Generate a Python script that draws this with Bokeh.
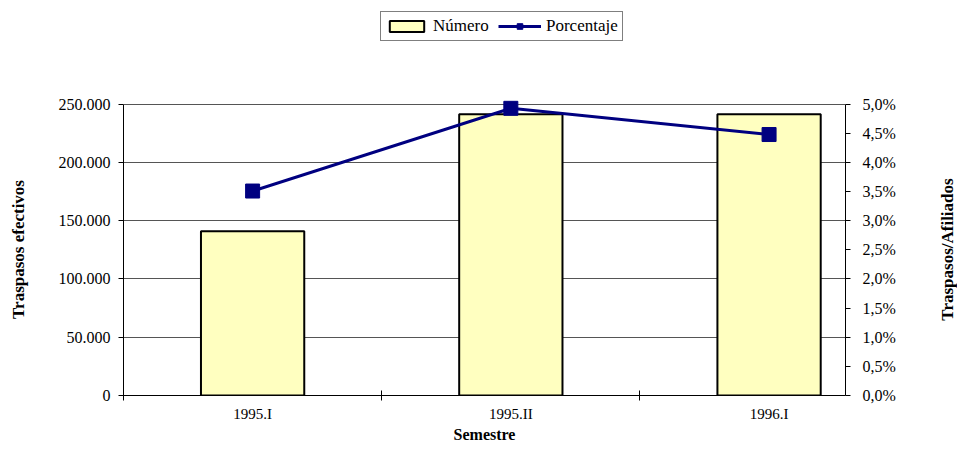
import math
from bokeh.plotting import figure
from bokeh.layouts import row
from bokeh.models import (Range1d, LinearAxis, FixedTicker, CustomJSTickFormatter,
                          Legend, LegendItem, ColumnDataSource, Label)
from bokeh.embed import file_html
from bokeh.resources import INLINE

categories = ["1995.I", "1995.II", "1996.I"]
numero = [141000, 241500, 241500]
porcentaje = [0.0351, 0.0493, 0.0448]
left_ticks = [0, 50000, 100000, 150000, 200000, 250000]
right_ticks = [0.0, 0.005, 0.01, 0.015, 0.02, 0.025, 0.03, 0.035, 0.04, 0.045, 0.05]
left_title = "Traspasos efectivos"
right_title = "Traspasos/Afiliados"
x_title = "Semestre"

FONT = "Liberation Serif"

# layout (pixels, page coordinates)
W, H = 957, 445
LS_W, RS_W = 36, 57             # side strips holding the rotated axis titles
FRAME_L, FRAME_R, FRAME_B = 123, 845, 396
DATA_TOP = 104                  # where the top tick (250.000 / 5,0%) sits
X_END = 2.796                   # visible part of the category axis (last category cut, as in the original)

scale = FRAME_B / (FRAME_B - DATA_TOP)
P_W = W - LS_W - RS_W

xpos = [i + 0.5 for i in range(len(categories))]
bounds = [float(i) for i in range(len(categories) + 1)]
src = ColumnDataSource(dict(x=xpos, numero=numero, pct=porcentaje, cat=categories))

p = figure(width=P_W, height=H, output_backend="svg", toolbar_location=None,
           x_range=Range1d(0, X_END),
           y_range=Range1d(0, left_ticks[-1] * scale),
           min_border_left=FRAME_L - LS_W, min_border_right=LS_W + P_W - FRAME_R,
           min_border_top=0, min_border_bottom=H - FRAME_B)
p.outline_line_color = None
p.extra_y_ranges = {"pct": Range1d(0, right_ticks[-1] * scale)}

# x axis
p.xaxis.ticker = FixedTicker(ticks=xpos, minor_ticks=bounds)
p.xaxis.major_label_overrides = {x: c for x, c in zip(xpos, categories)}
p.xaxis.major_tick_line_color = None
p.xaxis.major_tick_in = 0
p.xaxis.major_tick_out = 0
p.xaxis.minor_tick_line_color = "black"
p.xaxis.minor_tick_in = 5
p.xaxis.minor_tick_out = 5
p.xaxis.major_label_standoff = 5
p.xaxis.axis_label = x_title
p.xaxis.axis_label_standoff = 1
p.xgrid.grid_line_color = None

# left axis
p.yaxis.ticker = FixedTicker(ticks=left_ticks, minor_ticks=[])
p.yaxis.bounds = (left_ticks[0], left_ticks[-1])
p.yaxis.formatter = CustomJSTickFormatter(code="""
    return Math.round(tick).toString().replace(/\\B(?=(\\d{3})+(?!\\d))/g, '.');
""")
p.yaxis.major_tick_in = 0
p.yaxis.major_tick_out = 5
p.yaxis.major_label_standoff = 8
p.ygrid.ticker = FixedTicker(ticks=left_ticks)
p.ygrid.grid_line_color = "#555555"
p.ygrid.grid_line_width = 1

# right axis
ra = LinearAxis(y_range_name="pct", ticker=FixedTicker(ticks=right_ticks, minor_ticks=[]),
                formatter=CustomJSTickFormatter(code="""
    return (tick * 100).toFixed(1).replace('.', ',') + '%';
"""))
ra.bounds = (right_ticks[0], right_ticks[-1])
ra.major_tick_in = 0
ra.major_tick_out = 5
ra.major_label_standoff = 12
p.add_layout(ra, "right")

for ax in [p.xaxis[0], p.yaxis[0], ra]:
    ax.axis_line_color = "black"
    ax.axis_line_width = 1
    ax.major_label_text_font = FONT
    ax.major_label_text_font_size = "16px"
    ax.major_label_text_color = "black"
    ax.axis_label_text_font = FONT
    ax.axis_label_text_font_size = "16px"
    ax.axis_label_text_font_style = "bold"
    ax.axis_label_text_color = "black"
p.xaxis.major_label_text_font_size = "15px"

bars = p.vbar(x="x", top="numero", width=0.40, source=src, fill_color="#FFFFC0",
              line_color="black", line_width=2)
ln = p.line(x="x", y="pct", source=src, y_range_name="pct", line_color="#000080", line_width=3)
sq = p.scatter(x="x", y="pct", source=src, y_range_name="pct", marker="square", size=14,
               fill_color="#000080", line_color="#000080")

legend = Legend(items=[LegendItem(label="Número", renderers=[bars]),
                       LegendItem(label="Porcentaje", renderers=[ln, sq])],
                orientation="horizontal", location=(380 - FRAME_L, FRAME_B - 42))
legend.label_text_font = FONT
legend.label_text_font_size = "17px"
legend.label_text_color = "black"
legend.border_line_color = "black"
legend.border_line_width = 1
legend.padding = 4
legend.spacing = 7
legend.margin = 0
legend.label_standoff = 5
legend.glyph_width = 43
legend.glyph_height = 14
legend.label_height = 17
legend.label_width = 58
p.add_layout(legend, "center")


def title_strip(width, text, cx):
    s = figure(width=width, height=H, output_backend="svg", toolbar_location=None,
               x_axis_location=None, y_axis_location=None,
               min_border_left=0, min_border_right=0, min_border_top=0,
               min_border_bottom=H - FRAME_B)
    s.outline_line_color = None
    s.xgrid.grid_line_color = None
    s.ygrid.grid_line_color = None
    s.add_layout(Label(x=cx, y=FRAME_B - (FRAME_B + DATA_TOP) / 2, x_units="screen",
                       y_units="screen", text=text, angle=math.pi / 2,
                       text_align="center", text_baseline="middle", text_font=FONT,
                       text_font_size="17px", text_font_style="bold", text_color="black"))
    return s


ls = title_strip(LS_W, left_title, 18)
rs = title_strip(RS_W, right_title, RS_W - 10)

page = row(ls, p, rs, spacing=0)
open("out.html", "w").write(file_html(page, INLINE))
